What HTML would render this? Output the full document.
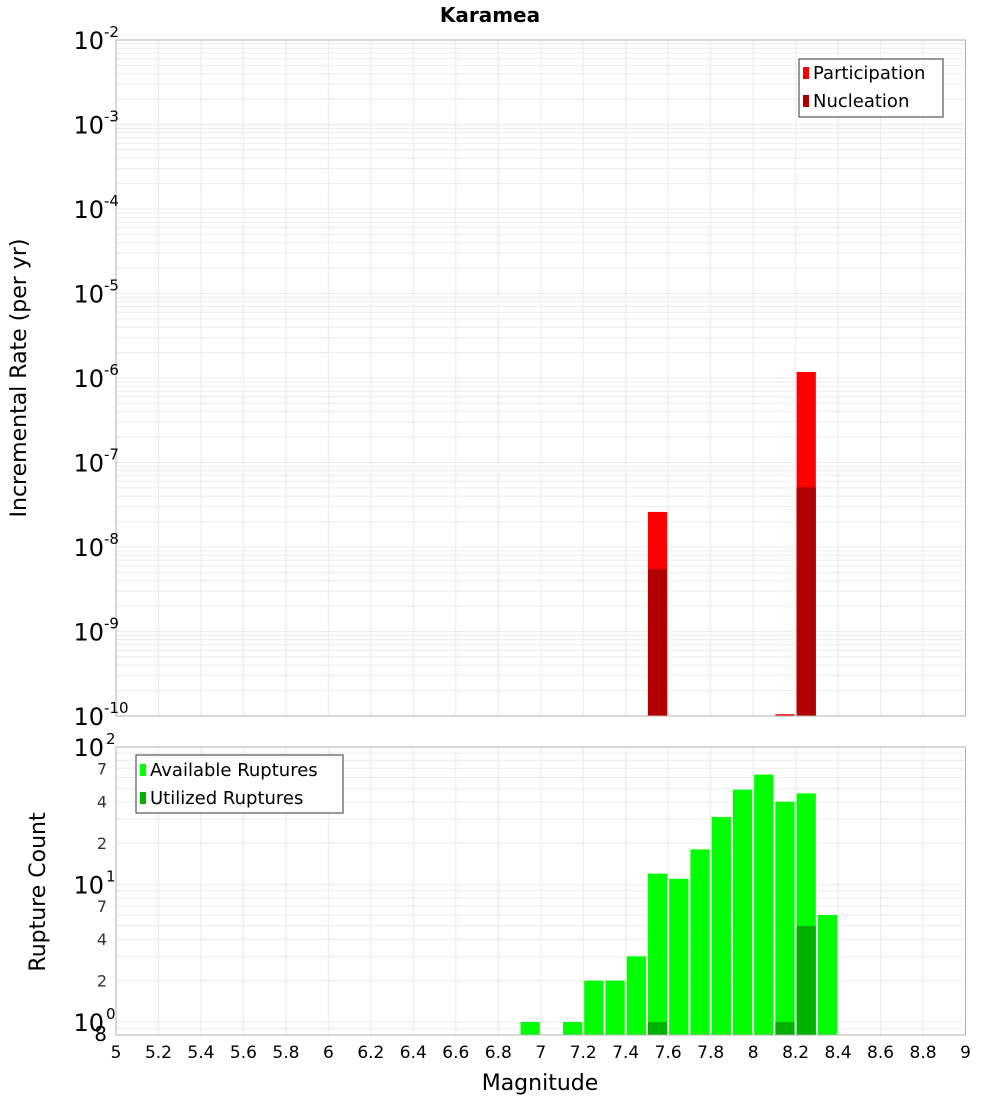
<!DOCTYPE html>
<html><head><meta charset="utf-8"><style>
body{margin:0;background:#fff;font-family:"Liberation Sans","DejaVu Sans",sans-serif}
svg text{font-family:"DejaVu Sans","Liberation Sans",sans-serif}
</style></head><body>
<svg id="c" width="1000" height="1100" xmlns="http://www.w3.org/2000/svg"></svg>
<script>
const mags=[6.9,7.0,7.1,7.2,7.3,7.4,7.5,7.6,7.7,7.8,7.9,8.0,8.1,8.2,8.3];
const available=[1,0,1,2,2,3,12,11,18,31,49,63,40,46,6];
const utilized=[0,0,0,0,0,0,1,0,0,0,0,0,1,5,0];
const rateMags=[7.5,8.1,8.2];
const participation=[2.6e-8,1.05e-10,1.18e-6];
const nucleation=[5.5e-9,1.0e-10,5.1e-8];
const xTicks=[5,5.2,5.4,5.6,5.8,6,6.2,6.4,6.6,6.8,7,7.2,7.4,7.6,7.8,8,8.2,8.4,8.6,8.8,9];
const topExps=[-2,-3,-4,-5,-6,-7,-8,-9,-10];
const botExps=[2,1,0];

const S=document.getElementById('c');const NS='http://www.w3.org/2000/svg';
function mk(t,a,p){const e=document.createElementNS(NS,t);for(const k in a)e.setAttribute(k,a[k]);(p||S).appendChild(e);return e;}
const L=116,R=965.5;
const X=m=>L+(m-5)/4*(R-L);
const T0=40,T1=716;const Yt=v=>T0+(-2-Math.log10(v))/8*(T1-T0);
const B0=747,B1=1035;const dec=137.5;const Yb=v=>1022-Math.log10(v)*dec;

// title
let t=mk('text',{x:490,y:22,'text-anchor':'middle','font-size':20,'font-weight':'bold'});t.textContent='Karamea';



function grid(y0,y1,Yf,lo,hi){
  for(const m of xTicks){mk('line',{x1:X(m),x2:X(m),y1:y0,y2:y1,stroke:'#ebebeb','stroke-width':1});}
  for(let e=lo;e<hi;e++)for(let k=1;k<10;k++){const y=Yf(k*Math.pow(10,e));if(y>=y0&&y<=y1)mk('line',{x1:L,x2:R,y1:y,y2:y,stroke:'#ebebeb','stroke-width':1});}
}
// top panel
mk('rect',{x:L,y:T0,width:R-L,height:T1-T0,fill:'#fff'});
grid(T0,T1,Yt,-10,-1);
rateMags.forEach((m,i)=>{
  let r=mk('rect',{x:X(m)+1,y:Yt(participation[i]),width:X(m+0.1)-X(m)-2,height:T1-Yt(participation[i]),fill:'#ff0000'});
  
  
  r=mk('rect',{x:X(m)+1,y:Yt(nucleation[i]),width:X(m+0.1)-X(m)-2,height:T1-Yt(nucleation[i]),fill:'#b20000'});
  
  
});
mk('rect',{x:L,y:T0,width:R-L,height:T1-T0,fill:'none',stroke:'#b0b0b0'});
topExps.forEach(e=>{const y=Yt(Math.pow(10,e));
  const g=mk('text',{x:104,y:y+9,'text-anchor':'end','font-size':24});g.textContent='10';
  
  
  const s=mk('text',{x:104,y:y-3,'font-size':15});s.textContent=e;});
t=mk('text',{x:0,y:0,'font-size':22,'text-anchor':'middle',transform:'translate(26,378) rotate(-90)'});t.textContent='Incremental Rate (per yr)';


// top legend
let lg=mk('g',{});
mk('rect',{x:799,y:59,width:144,height:58,fill:'#fff',stroke:'#333'},lg);
mk('rect',{x:803,y:67,width:6,height:12,fill:'#ff0000'},lg);
mk('rect',{x:803,y:95,width:6,height:12,fill:'#b20000'},lg);
t=mk('text',{x:813,y:79,'font-size':18},lg);t.textContent='Participation';
t=mk('text',{x:813,y:107,'font-size':18},lg);t.textContent='Nucleation';

// bottom panel
mk('rect',{x:L,y:B0,width:R-L,height:B1-B0,fill:'#fff'});
grid(B0,B1,Yb,-1,2);
mags.forEach((m,i)=>{
  if(available[i]>0){const r=mk('rect',{x:X(m)+1,y:Yb(available[i]),width:X(m+0.1)-X(m)-2,height:B1-Yb(available[i]),fill:'#00ff00'});
  
  }
  if(utilized[i]>0){const r=mk('rect',{x:X(m)+1,y:Yb(utilized[i]),width:X(m+0.1)-X(m)-2,height:B1-Yb(utilized[i]),fill:'#00b200'});
  
  }
});
mk('rect',{x:L,y:B0,width:R-L,height:B1-B0,fill:'none',stroke:'#b0b0b0'});
botExps.forEach(e=>{const y=Yb(Math.pow(10,e));
  const g=mk('text',{x:104,y:y+9,'text-anchor':'end','font-size':24});g.textContent='10';
  
  
  const s=mk('text',{x:106,y:y-3,'font-size':15});s.textContent=e;});
[[2,1],[4,1],[7,1],[2,0],[4,0],[7,0]].forEach(([k,e])=>{const y=Yb(k*Math.pow(10,e));
  const g=mk('text',{x:107,y:y+6,'text-anchor':'end','font-size':16,fill:'#333'});g.textContent=k;});
t=mk('text',{x:107,y:1041,'text-anchor':'end','font-size':20});t.textContent='8';
t=mk('text',{x:0,y:0,'font-size':22,'text-anchor':'middle',transform:'translate(45,892) rotate(-90)'});t.textContent='Rupture Count';


lg=mk('g',{});
mk('rect',{x:136,y:755,width:207,height:58,fill:'#fff',stroke:'#333'},lg);
mk('rect',{x:140,y:764,width:6,height:12,fill:'#00ff00'},lg);
mk('rect',{x:140,y:792,width:6,height:12,fill:'#00b200'},lg);
t=mk('text',{x:150,y:776,'font-size':18},lg);t.textContent='Available Ruptures';
t=mk('text',{x:150,y:804,'font-size':18},lg);t.textContent='Utilized Ruptures';

// x axis
xTicks.forEach(m=>{const g=mk('text',{x:X(m),y:1058,'text-anchor':'middle','font-size':17});g.textContent=String(m);
  
  });
t=mk('text',{x:540,y:1090,'text-anchor':'middle','font-size':22});t.textContent='Magnitude';


</script>
</body></html>
